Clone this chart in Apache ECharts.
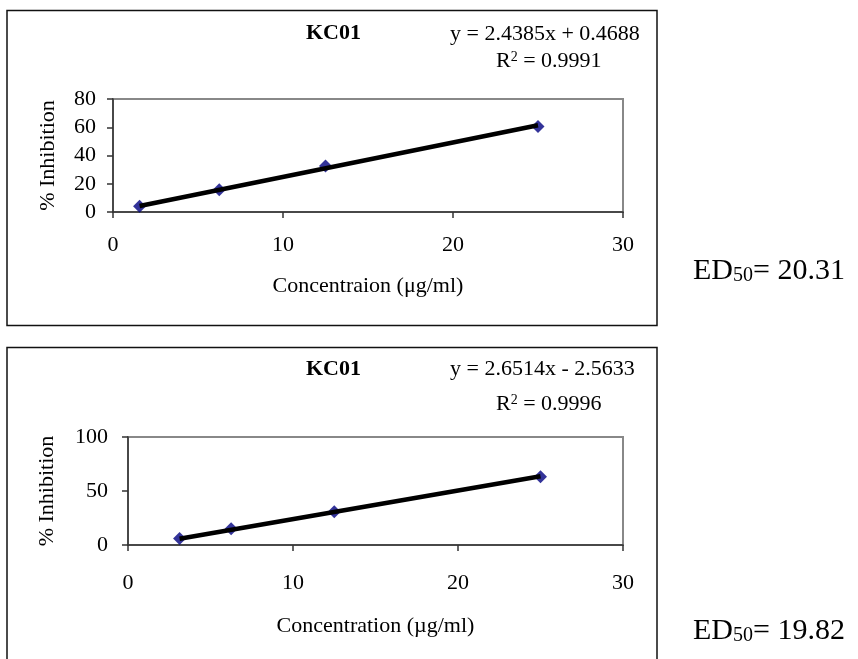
<!DOCTYPE html>
<html>
<head>
<meta charset="utf-8">
<script src="https://cdn.jsdelivr.net/npm/echarts@6/dist/echarts.min.js"></script>
<style>
  html, body { margin: 0; padding: 0; background: #fff; }
  #chart { width: 858px; height: 659px; }
</style>
</head>
<body>
<div id="chart"></div>
<script>
// 数据
const concA = [1.5625, 6.25, 12.5, 25];
const inhibA = [4.0, 15.7, 32.5, 60.5];
const trendA = [[1.5625, 4.28], [25, 61.43]];
const concB = [3.125, 6.25, 12.5, 25];
const inhibB = [6.0, 15.0, 30.8, 63.2];
const trendB = [[3.125, 5.72], [25, 63.72]];
const xTicks = [0, 10, 20, 30];
const yTicksA = [0, 20, 40, 60, 80];
const yTicksB = [0, 50, 100];
const titles = ['KC01', 'KC01'];
const equations = ['y = 2.4385x + 0.4688', 'y = 2.6514x - 2.5633'];
const r2 = ['0.9991', '0.9996'];
const ed50 = ['20.31', '19.82'];
const xNames = ['Concentraion (μg/ml)', 'Concentration (µg/ml)'];

const FONT = 'Liberation Serif, Times New Roman, serif';
let chart = echarts.init(document.getElementById('chart'), null, {renderer: 'canvas'});

function pairs(xs, ys) {
  return xs.map((x, i) => [x, ys[i]]);
}

function makeX(idx, labelMargin, nameGap) {
  return {
    type: 'value',
    gridIndex: idx,
    min: xTicks[0],
    max: xTicks[xTicks.length - 1],
    interval: 10,
    name: xNames[idx],
    nameLocation: 'middle',
    nameGap: nameGap,
    nameMoveOverlap: false,
    nameTextStyle: {fontFamily: FONT, fontSize: 22, color: '#000'},
    axisLine: {show: true, onZero: false, lineStyle: {color: '#333', width: 1.5}},
    axisTick: {show: true, inside: false, length: 6, lineStyle: {color: '#333', width: 1.5}},
    splitLine: {show: false},
    axisLabel: {fontFamily: FONT, fontSize: 22, color: '#000', margin: labelMargin}
  };
}

function makeY(idx, ticks, step, labelMargin, nameGap) {
  return {
    type: 'value',
    gridIndex: idx,
    min: ticks[0],
    max: ticks[ticks.length - 1],
    interval: step,
    name: '% Inhibition',
    nameLocation: 'middle',
    nameGap: nameGap,
    nameMoveOverlap: false,
    nameTextStyle: {fontFamily: FONT, fontSize: 22, color: '#000'},
    axisLine: {show: true, onZero: false, lineStyle: {color: '#333', width: 1.5}},
    axisTick: {show: true, inside: false, length: 6, lineStyle: {color: '#333', width: 1.5}},
    splitLine: {show: false},
    axisLabel: {fontFamily: FONT, fontSize: 22, color: '#000', margin: labelMargin}
  };
}

function textBlock(i, top) {
  // 标题, 方程, R2, ED50
  return [
    {type: 'text', left: 306, top: top[0], style: {text: titles[i], font: 'bold 22px ' + FONT, fill: '#000'}},
    {type: 'text', left: 450, top: top[1], style: {text: equations[i], font: '22px ' + FONT, fill: '#000'}},
    {type: 'text', left: 496, top: top[2], style: {
      text: '{n|R}{s|2}{n| = ' + r2[i] + '}',
      rich: {
        n: {fontFamily: FONT, fontSize: 22, color: '#000'},
        s: {fontFamily: FONT, fontSize: 14, color: '#000', verticalAlign: 'top'}
      }
    }},
    {type: 'text', left: 693, top: top[3], style: {
      text: '{n|ED}{s|50}{n|= ' + ed50[i] + '}',
      rich: {
        n: {fontFamily: FONT, fontSize: 30, color: '#000'},
        s: {fontFamily: FONT, fontSize: 20, color: '#000', verticalAlign: 'bottom'}
      }
    }}
  ];
}

chart.setOption({
  animation: false,
  backgroundColor: '#fff',
  grid: [
    {left: 113, top: 99, width: 510, height: 113, show: true, borderColor: '#888', borderWidth: 2, outerBoundsMode: 'none'},
    {left: 128, top: 437, width: 495, height: 108, show: true, borderColor: '#888', borderWidth: 2, outerBoundsMode: 'none'}
  ],
  xAxis: [makeX(0, 22, 63), makeX(1, 27, 70)],
  yAxis: [makeY(0, yTicksA, 20, 17, 54), makeY(1, yTicksB, 50, 20, 70)],
  series: [
    {
      type: 'scatter', xAxisIndex: 0, yAxisIndex: 0,
      data: pairs(concA, inhibA),
      symbol: 'diamond', symbolSize: 13,
      itemStyle: {color: '#000080'}
    },
    {
      type: 'line', xAxisIndex: 0, yAxisIndex: 0,
      data: trendA, symbol: 'none', z: 5,
      lineStyle: {color: '#000', width: 4.5}
    },
    {
      type: 'scatter', xAxisIndex: 1, yAxisIndex: 1,
      data: pairs(concB, inhibB),
      symbol: 'diamond', symbolSize: 13,
      itemStyle: {color: '#000080'}
    },
    {
      type: 'line', xAxisIndex: 1, yAxisIndex: 1,
      data: trendB, symbol: 'none', z: 5,
      lineStyle: {color: '#000', width: 4.5}
    }
  ],
  graphic: [
    {type: 'rect', shape: {x: 7, y: 10.5, width: 650, height: 315}, style: {fill: 'none', stroke: '#111', lineWidth: 1.5}},
    {type: 'rect', shape: {x: 7, y: 347.5, width: 650, height: 360}, style: {fill: 'none', stroke: '#111', lineWidth: 1.5}}
  ].concat(textBlock(0, [22, 23, 50, 256])).concat(textBlock(1, [358, 358, 393, 616]))
});
</script>
</body>
</html>
